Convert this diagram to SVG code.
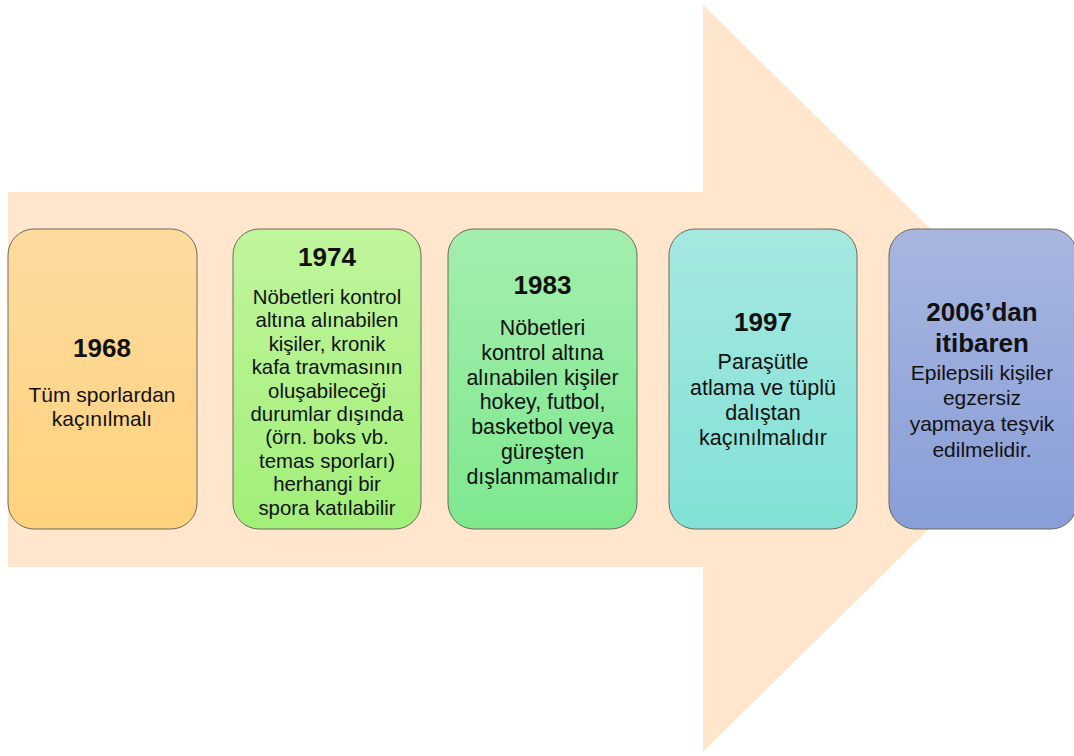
<svg xmlns="http://www.w3.org/2000/svg" width="1074" height="756" viewBox="0 0 1074 756">
<style>
.box{stroke:#6e6a5e;stroke-width:1}
.t{font-family:"Liberation Sans",Arial,sans-serif;fill:#111;text-anchor:middle}
.h{font-size:26px;font-weight:bold}
.b{font-size:21px}
#n1974 .b{font-size:20.4px}
#n1983 .b{font-size:21.4px}
#n1997 .b{font-size:21.5px}
</style>
<defs>
<linearGradient id="g1" x1="0" y1="0" x2="0" y2="1"><stop offset="0" stop-color="#FDDB9E"/><stop offset="1" stop-color="#FFD27E"/></linearGradient>
<linearGradient id="g2" x1="0" y1="0" x2="0" y2="1"><stop offset="0" stop-color="#C0F59C"/><stop offset="1" stop-color="#A2EF79"/></linearGradient>
<linearGradient id="g3" x1="0" y1="0" x2="0" y2="1"><stop offset="0" stop-color="#A3EEAE"/><stop offset="1" stop-color="#7EE88E"/></linearGradient>
<linearGradient id="g4" x1="0" y1="0" x2="0" y2="1"><stop offset="0" stop-color="#A5E8E0"/><stop offset="1" stop-color="#82E1D6"/></linearGradient>
<linearGradient id="g5" x1="0" y1="0" x2="0" y2="1"><stop offset="0" stop-color="#A8B6E0"/><stop offset="1" stop-color="#889ED7"/></linearGradient>
</defs>
<rect width="1074" height="756" fill="#fff"/>
<polygon id="arrow" points="8,192 703,192 703,5 1082,378 703,752 703,567 8,567" fill="#FFE6CC"/>
<g id="connectors"></g>
<g id="n1968">
<rect class="box" x="8" y="229" width="189" height="300" rx="26" fill="url(#g1)"/>
<text class="t h" x="102" y="357">1968</text>
<text class="t b" x="102" y="402">Tüm sporlardan</text>
<text class="t b" x="102" y="426">kaçınılmalı</text>
</g>
<g id="n1974">
<rect class="box" x="233" y="229" width="188" height="300" rx="26" fill="url(#g2)"/>
<text class="t h" x="327" y="266">1974</text>
<text class="t b" x="327" y="304">Nöbetleri kontrol</text>
<text class="t b" x="327" y="327.4">altına alınabilen</text>
<text class="t b" x="327" y="350.8">kişiler, kronik</text>
<text class="t b" x="327" y="374.2">kafa travmasının</text>
<text class="t b" x="327" y="397.6">oluşabileceği</text>
<text class="t b" x="327" y="421">durumlar dışında</text>
<text class="t b" x="327" y="444.4">(örn. boks vb.</text>
<text class="t b" x="327" y="467.8">temas sporları)</text>
<text class="t b" x="327" y="491.2">herhangi bir</text>
<text class="t b" x="327" y="514.6">spora katılabilir</text>
</g>
<g id="n1983">
<rect class="box" x="448" y="229" width="189" height="300" rx="26" fill="url(#g3)"/>
<text class="t h" x="542.5" y="294">1983</text>
<text class="t b" x="542.5" y="335">Nöbetleri</text>
<text class="t b" x="542.5" y="360">kontrol altına</text>
<text class="t b" x="542.5" y="385">alınabilen kişiler</text>
<text class="t b" x="542.5" y="409">hokey, futbol,</text>
<text class="t b" x="542.5" y="434">basketbol veya</text>
<text class="t b" x="542.5" y="459">güreşten</text>
<text class="t b" x="542.5" y="484">dışlanmamalıdır</text>
</g>
<g id="n1997">
<rect class="box" x="669" y="229" width="188" height="300" rx="26" fill="url(#g4)"/>
<text class="t h" x="763" y="331">1997</text>
<text class="t b" x="763" y="369">Paraşütle</text>
<text class="t b" x="763" y="395">atlama ve tüplü</text>
<text class="t b" x="763" y="420">dalıştan</text>
<text class="t b" x="763" y="445">kaçınılmalıdır</text>
</g>
<g id="n2006">
<rect class="box" x="889" y="229" width="188" height="300" rx="26" fill="url(#g5)"/>
<text class="t h" x="982" y="321">2006’dan</text>
<text class="t h" x="982" y="352">itibaren</text>
<text class="t b" x="982" y="380">Epilepsili kişiler</text>
<text class="t b" x="982" y="405">egzersiz</text>
<text class="t b" x="982" y="431">yapmaya teşvik</text>
<text class="t b" x="982" y="457">edilmelidir.</text>
</g>
</svg>
